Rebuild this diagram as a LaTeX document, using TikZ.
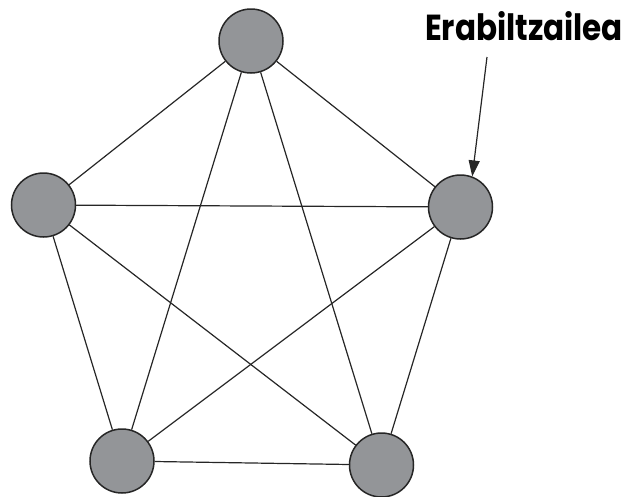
\documentclass[tikz,border=0pt]{standalone}
\usepackage{fontspec}
\setmainfont{Poppins}
\usetikzlibrary{arrows.meta}
\definecolor{erpingris}{RGB}{147,149,152}
\begin{document}
\begin{tikzpicture}[x=1pt,y=-1pt] % grafo osoa
\tikzstyle{erpin} = [circle, draw=black!85, line width=1.5pt, fill=erpingris, minimum size=64pt, inner sep=0pt] % erpinen estiloa
\tikzstyle{ertz} = [black!85, line width=1.2pt] % ertzen estiloa
\useasboundingbox (0,0) rectangle (627,496);
\node[erpin] (goi) at (251,41) {};
\node[erpin] (ezk) at (43.5,205) {};
\node[erpin] (esk) at (460.5,207) {};
\node[erpin] (bezk) at (122,461) {};
\node[erpin] (besk) at (381.5,465) {};
% ertzak
\draw[ertz] (goi)--(ezk);
\draw[ertz] (goi)--(esk);
\draw[ertz] (goi)--(bezk);
\draw[ertz] (goi)--(besk);
\draw[ertz] (ezk)--(esk);
\draw[ertz] (ezk)--(bezk);
\draw[ertz] (ezk)--(besk);
\draw[ertz] (esk)--(bezk);
\draw[ertz] (esk)--(besk);
\draw[ertz] (bezk)--(besk);
% erabiltzailea
\node[inner sep=0pt] (erab) at (524,26) {\resizebox{198pt}{29pt}{\bfseries Erabiltzailea}};
\coordinate (geziHasi) at (487,57);
\draw[ertz, -{Triangle[length=16pt,width=11pt]}] (geziHasi)--(esk.69);
\end{tikzpicture}
\end{document}
